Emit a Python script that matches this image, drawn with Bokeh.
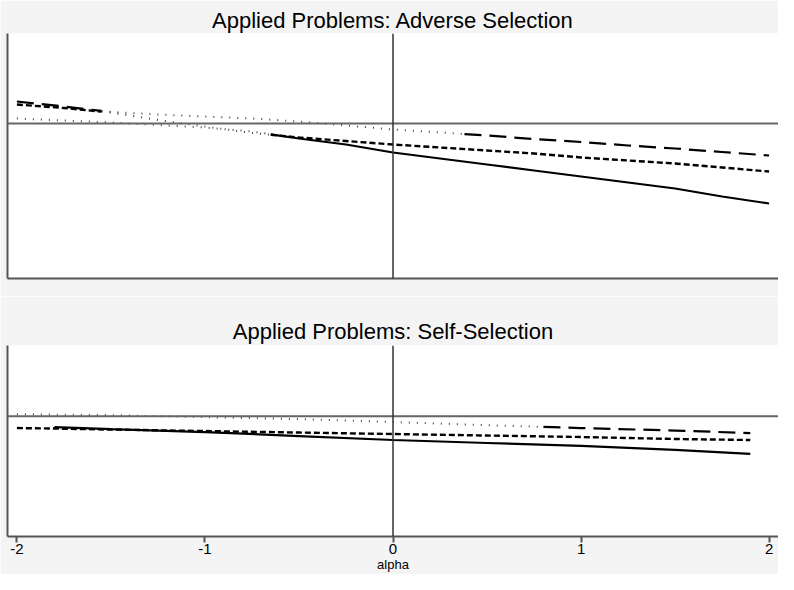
import numpy as np
from bokeh.plotting import figure
from bokeh.models import Span, FixedTicker, Range1d
from bokeh.layouts import column
from bokeh.embed import file_html
from bokeh.resources import INLINE

# ---------------- data ----------------
alpha_top = [-2.0, -1.75, -1.5, -1.25, -1.0, -0.75, -0.5, -0.25, 0.0,
             0.25, 0.5, 0.75, 1.0, 1.25, 1.5, 1.75, 2.0]
top_long = [0.22, 0.17, 0.115, 0.09, 0.07, 0.05, 0.02, -0.02, -0.06,
            -0.09, -0.12, -0.155, -0.185, -0.22, -0.25, -0.285, -0.32]
top_short = [0.19, 0.155, 0.11, 0.035, -0.03, -0.095, -0.14, -0.175, -0.21,
             -0.24, -0.27, -0.30, -0.34, -0.37, -0.40, -0.44, -0.48]
top_solid = [0.05, 0.03, 0.01, -0.015, -0.04, -0.08, -0.15, -0.21, -0.29,
             -0.35, -0.41, -0.47, -0.53, -0.59, -0.65, -0.73, -0.80]
# where each curve switches between its own style and the dotted style
top_long_breaks, top_long_styles = [-1.55, 0.38], ["long", "dot", "long"]
top_short_breaks, top_short_styles = [-1.55, -0.65], ["short", "dot", "short"]
top_solid_breaks, top_solid_styles = [-0.65], ["dot", "solid"]

alpha_bottom = [-2.0, -1.8, -1.5, -1.0, -0.5, 0.0, 0.5, 1.0, 1.5, 1.9]
bot_long = [0.02, 0.015, 0.01, -0.01, -0.03, -0.06, -0.09, -0.12, -0.145, -0.17]
bot_short = [-0.12, -0.125, -0.135, -0.15, -0.165, -0.18, -0.195, -0.21, -0.23, -0.24]
bot_solid = [np.nan, -0.11, -0.13, -0.16, -0.20, -0.24, -0.27, -0.30, -0.34, -0.38]
bot_long_breaks, bot_long_styles = [0.8], ["dot", "long"]
bot_short_breaks, bot_short_styles = [], ["short"]
bot_solid_breaks, bot_solid_styles = [], ["solid"]

x_ticks = [-2, -1, 0, 1, 2]
x_tick_labels = ["-2", "-1", "0", "1", "2"]
titles = ["Applied Problems: Adverse Selection", "Applied Problems: Self-Selection"]

STYLE = {
    "solid": dict(line_color="black", line_width=2.2, line_dash="solid"),
    "short": dict(line_color="black", line_width=2.4, line_dash="6 3"),
    "long": dict(line_color="black", line_width=2.2, line_dash="17 8"),
    "dot": dict(line_color="#444444", line_width=2, line_dash="1 7"),
}

GRAY = "#f4f4f4"
AXC = "#555555"


def draw_curve(p, xs, ys, breaks, styles):
    xs = np.asarray(xs, float)
    ys = np.asarray(ys, float)
    ok = ~np.isnan(ys)
    xs, ys = xs[ok], ys[ok]
    edges = [xs[0]] + list(breaks) + [xs[-1]]
    for i, st in enumerate(styles):
        a, b = edges[i], edges[i + 1]
        inner = (xs > a) & (xs < b)
        sx = np.concatenate([[a], xs[inner], [b]])
        sy = np.interp(sx, xs, ys)
        p.line(sx, sy, **STYLE[st])


def make_fig(title, height, yr, top, bottom, standoff, ticks):
    p = figure(width=778, height=height, title=title,
               x_range=Range1d(-2.05, 2.05), y_range=Range1d(*yr),
               output_backend="svg", toolbar_location=None,
               min_border_left=7, min_border_right=0,
               min_border_top=top, min_border_bottom=bottom)
    p.title.align = "center"
    p.title.text_font = "Liberation Sans"
    p.title.text_font_size = "22px"
    p.title.text_font_style = "normal"
    p.title.text_color = "black"
    p.title.standoff = standoff
    p.background_fill_color = "white"
    p.border_fill_color = GRAY
    p.outline_line_color = None
    p.xgrid.visible = False
    p.ygrid.visible = False

    ya = p.yaxis[0]
    ya.ticker = FixedTicker(ticks=[])
    ya.major_label_text_font_size = "0px"
    ya.major_tick_out = 0
    ya.major_tick_in = 0
    ya.minor_tick_out = 0
    ya.minor_tick_in = 0
    ya.major_label_standoff = 0
    ya.axis_line_color = AXC
    ya.axis_line_width = 2

    xa = p.xaxis[0]
    xa.axis_line_color = AXC
    xa.axis_line_width = 2
    xa.minor_tick_out = 0
    xa.minor_tick_in = 0
    if ticks:
        xa.ticker = FixedTicker(ticks=x_ticks)
        xa.major_label_overrides = {t: s for t, s in zip(x_ticks, x_tick_labels)}
        xa.major_tick_in = 0
        xa.major_tick_out = 6
        xa.major_tick_line_color = AXC
        xa.major_tick_line_width = 2
        xa.major_label_text_font = "Liberation Sans"
        xa.major_label_text_font_size = "15px"
        xa.major_label_text_color = "black"
        xa.major_label_standoff = 1
        xa.axis_label = "alpha"
        xa.axis_label_text_font = "Liberation Sans"
        xa.axis_label_text_font_size = "13px"
        xa.axis_label_text_font_style = "normal"
        xa.axis_label_text_color = "black"
        xa.axis_label_standoff = 0
    else:
        xa.ticker = FixedTicker(ticks=[])
        xa.major_label_text_font_size = "0px"
        xa.major_tick_out = 0
        xa.major_tick_in = 0
        xa.major_label_standoff = 0

    p.add_layout(Span(location=0, dimension="width", line_color="#666666", line_width=2))
    p.add_layout(Span(location=0, dimension="height", line_color="#333333", line_width=1.5))
    return p


p1 = make_fig(titles[0], 296, (-1.55, 0.90), 33, 18, 2, False)
draw_curve(p1, alpha_top, top_long, top_long_breaks, top_long_styles)
draw_curve(p1, alpha_top, top_short, top_short_breaks, top_short_styles)
draw_curve(p1, alpha_top, top_solid, top_solid_breaks, top_solid_styles)

p2 = make_fig(titles[1], 278, (-1.21, 0.71), 49, 37, 3, True)
draw_curve(p2, alpha_bottom, bot_long, bot_long_breaks, bot_long_styles)
draw_curve(p2, alpha_bottom, bot_short, bot_short_breaks, bot_short_styles)
draw_curve(p2, alpha_bottom, bot_solid, bot_solid_breaks, bot_solid_styles)

layout = column(p1, p2, spacing=0)
open("out.html", "w").write(file_html(layout, INLINE))
